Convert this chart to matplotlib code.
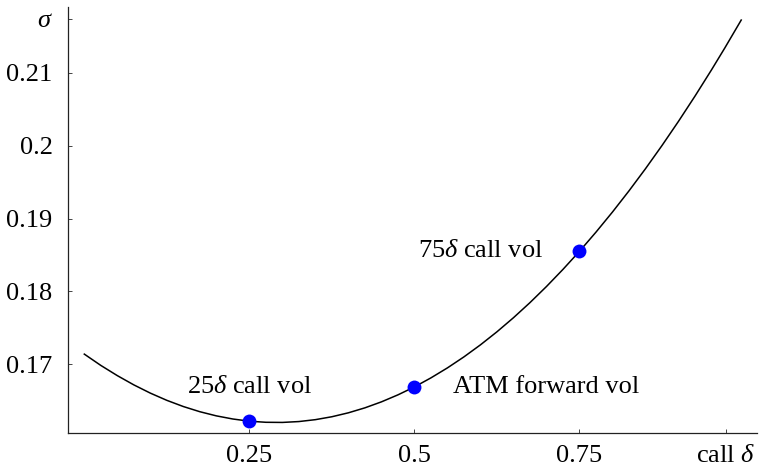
import matplotlib
matplotlib.use("Agg")
import matplotlib.pyplot as plt

plt.rcParams["font.family"] = ["Liberation Serif", "DejaVu Serif"]
plt.rcParams["mathtext.fontset"] = "custom"
plt.rcParams["mathtext.rm"] = "Liberation Serif"
plt.rcParams["mathtext.it"] = "Liberation Serif:italic"

# smile curve: implied vol against call delta
delta = [0.0, 0.025, 0.05, 0.075, 0.10, 0.125, 0.15, 0.175, 0.20, 0.225,
         0.25, 0.275, 0.30, 0.325, 0.35, 0.375, 0.40, 0.425, 0.45, 0.475,
         0.50, 0.525, 0.55, 0.575, 0.60, 0.625, 0.65, 0.675, 0.70, 0.725,
         0.75, 0.775, 0.80, 0.825, 0.85, 0.875, 0.90, 0.925, 0.95, 0.97, 0.995]
vol = [0.1714, 0.16985, 0.16845, 0.16718, 0.16605, 0.16506, 0.16421, 0.1635,
       0.16293, 0.1625, 0.1622, 0.16205, 0.16203, 0.16215, 0.16241, 0.16281,
       0.16335, 0.16403, 0.16485, 0.16581, 0.1669, 0.16814, 0.16951, 0.17102,
       0.17267, 0.17446, 0.17639, 0.17846, 0.18067, 0.18302, 0.1855, 0.18813,
       0.19089, 0.19379, 0.19683, 0.20001, 0.20333, 0.20679, 0.21039, 0.21337,
       0.21722]

# quoted points
quote_delta = [0.25, 0.5, 0.75]
quote_vol = [0.1622, 0.1669, 0.1855]
quote_names = ["25$\\delta$ call vol", "ATM forward vol", "75$\\delta$ call vol"]

x_ticks = [0.25, 0.5, 0.75]
x_tick_labels = ["0.25", "0.5", "0.75"]
y_ticks = [0.17, 0.18, 0.19, 0.20, 0.21]
y_tick_labels = ["0.17", "0.18", "0.19", "0.2", "0.21"]

fig = plt.figure(figsize=(7.59, 4.72), dpi=100)
ax = fig.add_axes([68 / 759, 39 / 472, 689 / 759, 426 / 472])

ax.plot(delta, vol, color="black", lw=1.1, solid_joinstyle="round", clip_on=False)
ax.plot(quote_delta, quote_vol, "o", color="#0000ff", ms=10, mec="none", clip_on=False)

fs = 19
# label placement: above / right / left of each point
ax.annotate(quote_names[0], (quote_delta[0], quote_vol[0]), xytext=(0, 20),
            textcoords="offset points", ha="center", va="baseline", fontsize=fs)
ax.annotate(quote_names[1], (quote_delta[1], quote_vol[1]), xytext=(28, 0),
            textcoords="offset points", ha="left", va="center", fontsize=fs)
ax.annotate(quote_names[2], (quote_delta[2], quote_vol[2]), xytext=(-26, 0),
            textcoords="offset points", ha="right", va="center", fontsize=fs)

ax.set_xlim(-0.0247, 1.0189)
ax.set_ylim(0.16058, 0.21901)

# axis names sit on their own tick at the end of each axis
ax.set_xticks(x_ticks + [0.972])
ax.set_xticklabels(x_tick_labels + ["call $\\delta$"])
ax.set_yticks(y_ticks + [0.2174])
ax.set_yticklabels(y_tick_labels + ["$\\sigma$"])

for s in ["top", "right"]:
    ax.spines[s].set_visible(False)
for s in ["left", "bottom"]:
    ax.spines[s].set_linewidth(0.9)
    ax.spines[s].set_color("#222222")

ax.tick_params(direction="in", length=3, width=0.7, color="#444444",
               labelsize=fs, labelcolor="black")
ax.tick_params(axis="y", pad=11)
ax.tick_params(axis="x", pad=9)

fig.savefig("out.png", dpi=100)
